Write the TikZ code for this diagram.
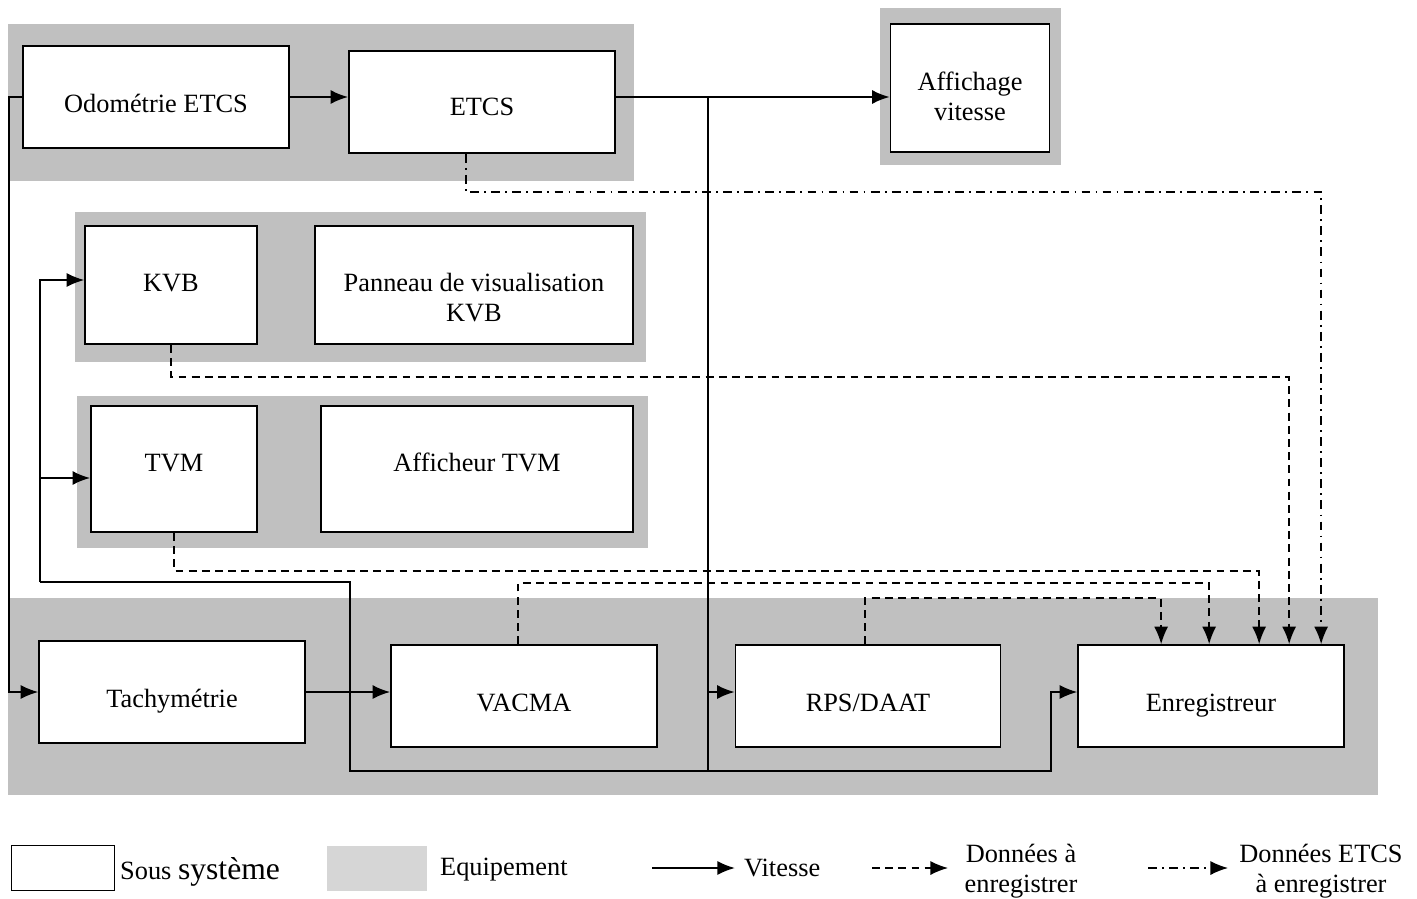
\documentclass[tikz,border=0pt]{standalone}
\usepackage{fontspec}
\setmainfont{Liberation Serif}
\usetikzlibrary{arrows.meta}
\definecolor{equipgris}{RGB}{192,192,192}
\definecolor{legendgris}{RGB}{214,214,214}
\newcommand{\decale}[2]{\raisebox{#1}[0.7em][0.2em]{#2}}
\tikzstyle{soussys} = [draw, line width=1pt, fill=white, inner sep=0pt, align=center]
\tikzstyle{equip} = [fill=equipgris, draw=none]
\tikzstyle{vitesse} = [line width=1.1pt]
\tikzstyle{fil} = [line width=0.8pt]
\tikzstyle{data} = [line width=0.8pt, dash pattern=on 4.5pt off 3pt]
\tikzstyle{donetcs} = [line width=0.8pt, dash pattern=on 5pt off 3pt on 1pt off 3pt]

\begin{document}
\begin{tikzpicture}[x=0.02cm, y=-0.02cm, >={Latex[length=10pt,width=8pt]}, font=\fontsize{15}{17}\selectfont]
    \useasboundingbox (0,0) rectangle (1417,899);

    %equipements
    \draw[equip] (8,24) rectangle (634,181);
    \draw[equip] (880,8) rectangle (1061,165);
    \draw[equip] (75,212) rectangle (646,362);
    \draw[equip] (77,396) rectangle (648,548);
    \draw[equip] (8,598) rectangle (1378,795);

    %sous systemes
    \node[soussys, minimum width=5.32cm, minimum height=2.04cm] at (156,97) (odo) {\decale{-5pt}{Odométrie ETCS}};
    \node[soussys, minimum width=5.32cm, minimum height=2.04cm] at (482,102) (etcs) {\decale{-4pt}{ETCS}};
    \node[soussys, minimum width=3.18cm, minimum height=2.56cm] at (970,88) (aff) {\decale{-6.4pt}{Affichage}\\\decale{-6.4pt}{vitesse}};
    \node[soussys, minimum width=3.44cm, minimum height=2.36cm] at (171,285) (kvb) {\decale{0pt}{KVB}};
    \node[soussys, minimum width=6.36cm, minimum height=2.36cm] at (474,285) (panneau) {\decale{-8.6pt}{Panneau de visualisation}\\\decale{-8.6pt}{KVB}};
    \node[soussys, minimum width=3.32cm, minimum height=2.52cm] at (174,469) (tvm) {\decale{2.3pt}{TVM}};
    \node[soussys, minimum width=6.24cm, minimum height=2.52cm] at (477,469) (afftvm) {\decale{2.3pt}{Afficheur TVM}};
    \node[soussys, minimum width=5.32cm, minimum height=2.04cm] at (172,692) (tachy) {\decale{-5pt}{Tachymétrie}};
    \node[soussys, minimum width=5.32cm, minimum height=2.04cm] at (524,696) (vacma) {\decale{-5pt}{VACMA}};
    \node[soussys, minimum width=5.30cm, minimum height=2.04cm] at (868,696) (rps) {\decale{-5pt}{RPS/DAAT}};
    \node[soussys, minimum width=5.32cm, minimum height=2.04cm] at (1211,696) (enreg) {\decale{-5pt}{Enregistreur}};

    %vitesse
    \coordinate (jv) at (708,97);
    \coordinate (fl) at (40,582);
    \coordinate (b2) at (350,771);
    \coordinate (b3) at (1051,771);
    \draw[vitesse,->] (odo.east) -- (odo.east -| etcs.west);
    \draw[vitesse,->] (odo.east -| etcs.east) -- (odo.east -| aff.west);
    \draw[fil] (jv) -- (jv |- b2);
    \draw[vitesse,->] (jv |- tachy.east) -- (tachy.east -| rps.west);
    \draw[fil,->] (odo.west) -- ++(-13,0) |- (tachy.west);
    \draw[vitesse,->] (tachy.east) -- (tachy.east -| vacma.west);
    \draw[fil,->] (fl) |- ([yshift=0.1cm]kvb.west);
    \draw[vitesse,->] (fl |- 0,478) -- ([yshift=-0.18cm]tvm.west);
    \draw[fil,->] (fl) -| (b2) -- (b3) |- (tachy.east -| enreg.west);

    %donnees a enregistrer
    \path (enreg.north west) ++(84,0) coordinate (e1) ++(48,0) coordinate (e2)
        ++(50,0) coordinate (e3) ++(30,0) coordinate (e4) ++(32,0) coordinate (e5);
    \foreach \s/\dx/\d/\e in {kvb.south/0cm/32/e4, tvm.south/0cm/38/e3, vacma.north/-0.12cm/-61/e2, rps.north/-0.06cm/-46/e1}
      {
        \draw[data,->] ([xshift=\dx]\s) -- ++(0,\d) -| (\e);
      }
    \draw[donetcs,->] ([xshift=-0.32cm]etcs.south) -- ++(0,38) -| (e5);

    %legende
    \node[soussys, minimum width=2.06cm, minimum height=0.9cm] at (63,868) (legsous) {};
    \node[right] at (114,872) (txtsous) {Sous {\fontsize{18}{20}\selectfont système}};
    \node[equip, fill=legendgris, minimum width=2.02cm, minimum height=0.9cm] at (377,868) (legequip) {};
    \node[right] at (434,870) (txtequip) {Equipement};
    \coordinate (lv1) at (652,868);
    \coordinate (lv2) at (735,868);
    \draw[vitesse,->] (lv1) -- (lv2);
    \node[right] at (738,868) (txtvit) {Vitesse};
    \coordinate (ld1) at (872,868);
    \coordinate (ld2) at (948,868);
    \draw[data,->] (ld1) -- (ld2);
    \node[align=center] at (1021,871) (txtdon) {Données à\\enregistrer};
    \coordinate (le1) at (1148,868);
    \coordinate (le2) at (1228,868);
    \draw[donetcs,->] (le1) -- (le2);
    \node[align=center] at (1321,871) (txtetcs) {Données ETCS\\à enregistrer};

\end{tikzpicture}
\end{document}
